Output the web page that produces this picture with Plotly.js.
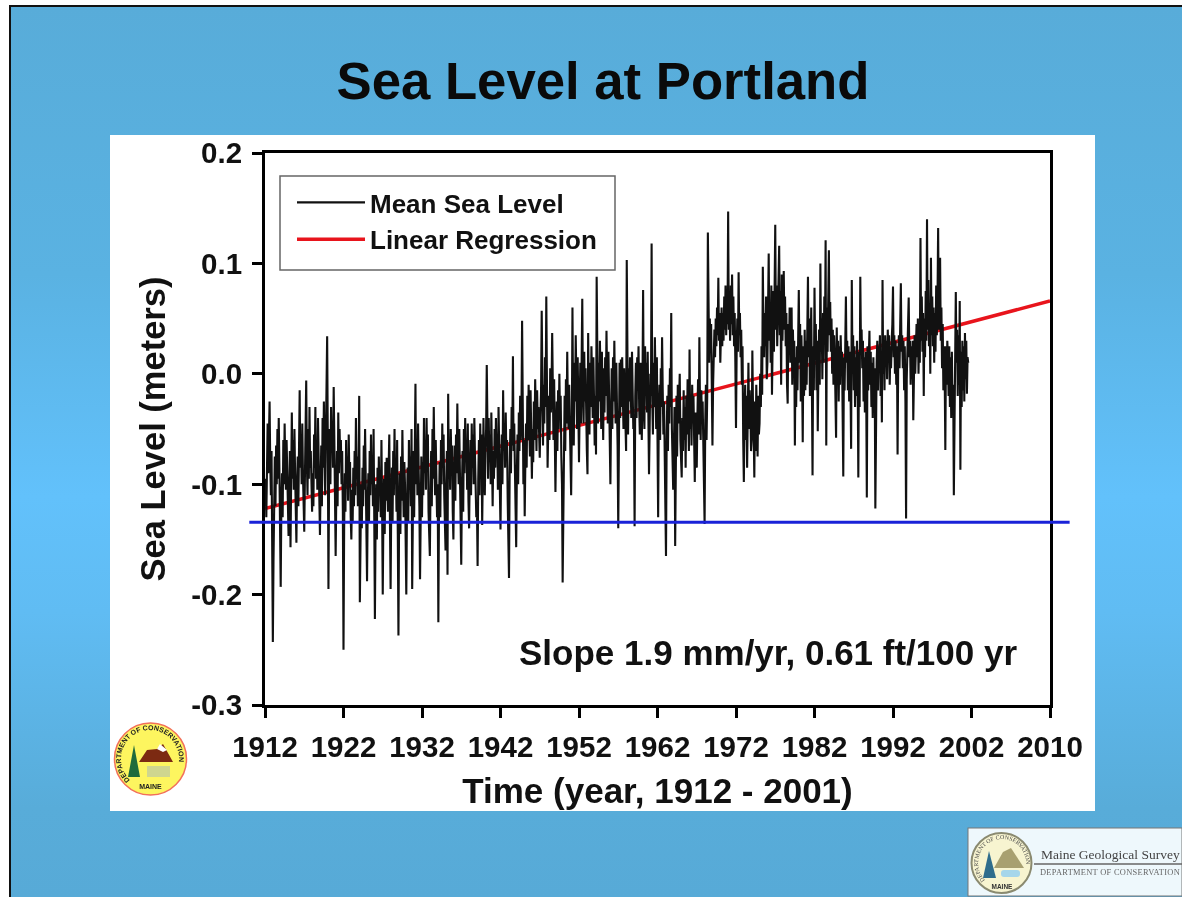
<!DOCTYPE html>
<html><head><meta charset="utf-8">
<script src="https://cdn.plot.ly/plotly-3.0.1.min.js"></script>
<style>
html,body{margin:0;padding:0;width:1182px;height:897px;overflow:hidden;background:#fff}
#slide{position:absolute;left:9px;top:5px;width:1173px;height:892px;box-sizing:border-box;border-left:2px solid #111;border-top:2px solid #111;
background:linear-gradient(180deg,#58acd9 0%,#5ab2e2 30%,#62c1fb 55%,#60bcf3 68%,#58acd9 90%,#57aad7 100%)}
#chart{position:absolute;left:0;top:0;width:1182px;height:897px;filter:blur(0.5px)}
#logos{position:absolute;left:0;top:0;filter:blur(0.4px)}
</style></head><body>
<div id="slide"></div>
<div id="chart"></div>
<svg id="logos" width="1182" height="897" xmlns="http://www.w3.org/2000/svg">
 <defs>
  <path id="arcA" d="M130 780 A29 29 0 1 1 170 780"/>
  <path id="arcB" d="M985 880 A24 24 0 1 1 1019 880"/>
 </defs>
 <g>
  <circle cx="150.5" cy="759" r="36" fill="#fdf55f" stroke="#f2705a" stroke-width="1.5"/>
  <polygon points="139,762 147,750 157,749 163,744 173,762" fill="#7c2a12"/>
  <polygon points="157,749 160,744 167,750 163,752" fill="#ffffff"/>
  <polygon points="134,745 140,777 128,777" fill="#1f6b3c"/>
  <rect x="147" y="766" width="23" height="11" fill="#cfd68f"/>
  <text font-family="Liberation Sans" font-size="7" font-weight="bold" fill="#222"><textPath href="#arcA">DEPARTMENT OF CONSERVATION</textPath></text>
  <text x="150.5" y="789" text-anchor="middle" font-family="Liberation Sans" font-size="7" font-weight="bold" fill="#222">MAINE</text>
 </g>
 <g>
  <rect x="968" y="828" width="214" height="68" fill="#eef8fc" stroke="#777" stroke-width="1"/>
  <circle cx="1001.5" cy="863" r="30" fill="#f7f4d0" stroke="#8a8a70" stroke-width="2"/>
  <polygon points="994,868 1003,852 1011,848 1024,868" fill="#a8a070"/>
  <polygon points="989,851 996,878 983,878" fill="#2f6d8c"/>
  <rect x="1001" y="870" width="19" height="7" rx="3" fill="#a6d6ea"/>
  <text font-family="Liberation Serif" font-size="6" fill="#444"><textPath href="#arcB">DEPARTMENT OF CONSERVATION</textPath></text>
  <text x="1002" y="889" text-anchor="middle" font-family="Liberation Sans" font-size="6.5" font-weight="bold" fill="#333">MAINE</text>
  <text x="1041" y="859" font-family="Liberation Serif" font-size="13.5" fill="#444">Maine Geological Survey</text>
  <line x1="1034" y1="864" x2="1182" y2="864" stroke="#666" stroke-width="1.5"/>
  <text x="1040" y="875" font-family="Liberation Serif" font-size="8.4" fill="#666" letter-spacing="0.3">DEPARTMENT OF CONSERVATION</text>
 </g>
</svg>
<script>
// Monthly mean sea level, millimetres. First value: January 1912.
var meanSeaLevelMm = [
-120,-95,-130,-70,-45,-90,-60,-25,-80,-110,-70,-140,
-243,-170,-110,-75,-120,-65,-100,-50,-95,-40,-85,-130,
-193,-120,-90,-130,-60,-100,-45,-85,-105,-60,-90,-125,
-147,-110,-70,-157,-80,-35,-95,-60,-105,-50,-90,-120,
-153,-100,-75,-120,-65,-15,-85,-55,-100,-45,-90,-125,
-143,-95,-60,-6,-80,-110,-50,-95,-30,-85,-70,-115,
-125,-90,-120,-55,-85,-30,-95,-60,-105,-40,-80,-110,
-146,-100,-65,-120,-40,-85,-25,-75,-110,-60,-20,34,
-60,-195,-90,-50,-100,-30,-70,-45,-85,-12,-60,-95,
-165,-110,-70,-120,-35,-90,-50,-80,-60,-100,-70,-125,
-250,-140,-90,-125,-60,-100,-75,-115,-55,-95,-80,-130,
-150,-105,-135,-85,-120,-70,-110,-40,-95,-75,-120,-90,
-20,-207,-130,-100,-140,-85,-120,-65,-105,-50,-95,-130,
-188,-120,-90,-135,-70,-110,-55,-100,-75,-120,-50,-130,
-222,-140,-100,-150,-85,-125,-75,-110,-90,-130,-60,-120,
-200,-130,-95,-145,-80,-115,-76,-105,-125,-85,-55,-135,
-195,-120,-85,-135,-70,-110,-50,-100,-80,-125,-60,-145,
-237,-130,-90,-145,-75,-115,-51,-95,-130,-80,-100,-150,
-200,-125,-85,-135,-60,-105,-75,-120,-50,-195,-110,-70,
-130,-80,-9,-100,-60,-110,-45,-90,-120,-186,-100,-75,
-130,-80,-110,-40,-90,-60,-105,-40,-85,-55,-125,-150,
-165,-105,-70,-120,-50,-95,-30,-80,-110,-60,-90,-130,
-100,-225,-120,-80,-130,-60,-100,-45,-85,-55,-110,-140,
-160,-100,-70,-182,-18,-90,-60,-105,-50,-85,-65,-125,
-150,-95,-65,-115,-55,-90,-27,-75,-100,-50,-80,-120,
-173,-105,-70,-125,-50,-90,-40,-80,-60,-105,-45,-115,
-140,-90,-60,-110,-45,-85,-55,-100,-40,-75,-95,-130,
-120,-174,-95,-60,-110,-45,-85,-55,-137,-70,-40,-90,
-110,-70,-50,8,-60,-95,-40,-80,-55,-100,-35,-85,
-120,-70,-95,-50,-85,-40,-75,-55,-105,-30,-80,-110,
-141,-85,-55,-100,-15,-70,-45,-85,-35,-75,-60,-115,
-150,-185,-90,-50,-90,-30,-65,16,-70,-45,-85,-120,
-157,-90,-55,-100,-35,-70,-20,-60,-40,48,-60,-100,
-60,-129,-80,-45,-85,-20,-60,-10,-45,-75,-15,-55,
-95,-50,-80,-25,-60,-5,-45,-70,-15,-50,-30,-75,
-76,-40,-15,57,-30,-65,-10,-45,15,-30,70,-20,
-85,-50,-20,-60,5,-35,-15,37,-30,-60,-5,-45,
-107,-60,-25,-70,-15,-50,0,-40,-20,-75,-100,-189,
-120,-60,-20,-70,-5,-45,20,-30,-50,-10,-60,-98,
-110,-50,60,-30,-65,10,-25,35,-20,-50,15,-45,
-80,-30,10,-45,25,68,-15,-45,20,-25,5,-60,
-70,-91,37,-20,-55,10,-30,25,-15,-40,15,-50,
-65,-20,-73,88,-15,-45,10,-25,30,-10,-50,20,
-30,-60,5,-35,15,-20,39,-10,-45,20,-25,-55,
-100,-40,5,-50,15,-25,30,-15,-45,10,-25,-65,
-140,-35,10,-40,13,-30,15,-20,-50,5,-30,-60,
-70,103,-30,-55,5,-25,15,-15,-40,20,-20,-50,
-45,-138,-20,10,-40,15,-15,25,-30,-55,10,-25,
-60,-15,76,-30,-50,25,-20,10,-35,20,-25,-91,
-50,0,-20,118,-25,-55,10,-30,33,-20,-50,15,
-75,-130,-35,-10,-60,5,-30,33,-15,-55,-25,-80,
-90,-165,-60,-20,-70,-10,-45,5,-30,55,-50,-85,
-105,-70,-30,-156,-55,-20,-75,-10,-45,-25,0,-60,
-80,-94,-40,-70,-15,-60,-30,-85,-20,-55,-5,-45,
-70,22,-50,-25,-65,-10,-45,-20,-75,-98,-35,-60,
-85,-40,-5,-55,33,-30,-60,-15,-45,-25,-70,-85,
-136,-45,-10,-60,-20,128,30,10,50,20,45,5,
-65,-10,20,40,15,50,25,60,35,87,30,55,
10,35,60,25,55,30,70,40,80,35,65,45,
147,40,65,30,80,45,90,35,70,25,55,10,
-49,20,50,20,92,35,55,15,40,-10,25,-60,
-98,-40,-10,-60,-20,-85,-30,10,-50,-15,-35,-70,
-60,21,-30,-50,-94,-25,-70,-10,-40,-75,-20,-55,
-45,0,-30,25,-19,97,40,15,55,25,70,-5,
10,50,109,30,65,10,80,-19,45,75,20,60,
135,40,80,25,60,60,116,35,75,-10,90,30,
55,93,40,70,25,55,-10,-27,45,20,60,10,
35,60,-10,40,5,30,-65,15,-30,25,-15,45,
76,10,45,-25,35,0,-62,25,-20,40,-15,30,
-10,40,88,15,50,-20,30,60,-10,-92,25,-15,
78,20,45,-15,30,-52,5,40,-10,100,20,50,
-5,55,10,70,30,121,-65,60,20,80,112,35,
65,20,50,0,40,-10,35,15,-15,-58,42,5,
30,-25,25,-10,35,5,20,-30,-93,15,-15,25,
70,10,30,-15,25,-25,20,-10,-68,85,10,35,
-15,25,-30,15,-20,30,-5,-94,20,-30,88,25,
40,5,30,-25,15,-35,20,-10,-112,25,-15,15,
39,-10,20,-30,10,-40,15,-25,5,-122,-20,10,
30,-15,25,5,35,-20,20,-44,85,0,30,-15,
35,10,30,-5,40,15,35,-10,25,5,30,45,
79,15,35,0,30,-10,25,-73,15,35,5,30,
82,20,35,5,30,-15,25,-25,-131,-5,25,40,
69,15,30,-10,25,-5,30,-42,15,35,0,25,
45,15,50,0,35,10,123,30,70,20,55,-20,
50,15,75,30,140,40,85,25,60,0,105,35,
70,25,60,10,55,20,80,35,65,132,40,70,
105,30,60,5,45,-15,25,0,-69,25,-10,30,
15,-20,25,-30,15,-40,20,-35,-10,-110,-45,30,
74,10,40,-20,35,-10,66,-87,20,-30,30,-15,
25,-25,37,-5,30,-18,15,10
];
var firstYear = 1912;
var regressionYears = [1912, 2012];
var regressionLevels = [-0.122, 0.066];
var referenceYears = [1910, 2014.5];
var referenceLevel = -0.1345;
var xTickYears = [1912,1922,1932,1942,1952,1962,1972,1982,1992,2002,2012];
var xTickLabels = ['1912','1922','1932','1942','1952','1962','1972','1982','1992','2002','2010'];
var yTickValues = [0.2,0.1,0,-0.1,-0.2,-0.3];
var yTickLabels = ['0.2','0.1','0.0','-0.1','-0.2','-0.3'];

var months = meanSeaLevelMm.map(function(_, i){ return firstYear + i / 12; });
var metres = meanSeaLevelMm.map(function(v){ return v / 1000; });
var FONT = '"Liberation Sans", Arial, sans-serif';
var W = 785, H = 552, L = 265, T = 153;
var xMin = 1912, xMax = 2012;
function xFrac(year){ return (year - xMin) / (xMax - xMin); }

// The regression is drawn first so the sea level line covers it, as in the reference.
var traces = [
 {x: regressionYears, y: regressionLevels, mode: 'lines', name: 'Linear Regression', line: {color: '#e8141c', width: 3.5}},
 {x: months, y: metres, mode: 'lines', name: 'Mean Sea Level', line: {color: '#111111', width: 2.1}}
];
var axisCommon = {showgrid: false, zeroline: false, showline: true, linecolor: '#000', linewidth: 3, mirror: true,
  ticks: 'outside', ticklen: 10, tickwidth: 3, tickcolor: '#000', tickmode: 'array', ticklabelstandoff: 4};
var layout = {
 width: 1182, height: 897,
 margin: {l: L, r: 1182 - L - W, t: T, b: 897 - T - H, pad: 0},
 paper_bgcolor: 'rgba(0,0,0,0)', plot_bgcolor: '#fff',
 font: {family: FONT, color: '#111'},
 title: {text: '<b>Sea Level at Portland</b>', font: {family: FONT, size: 52.7, color: '#0a0a0a'}, x: 603/1182, xanchor: 'center', y: 1 - 81/897, yanchor: 'middle'},
 xaxis: Object.assign({}, axisCommon, {range: [xMin, xMax], tickvals: xTickYears, ticktext: xTickLabels,
   tickfont: {family: FONT, size: 29.5, color: '#111', weight: 'bold'},
   title: {text: '<b>Time (year, 1912 - 2001)</b>', font: {family: FONT, size: 35, color: '#111'}, standoff: 17}}),
 yaxis: Object.assign({}, axisCommon, {range: [-0.3, 0.2], tickvals: yTickValues, ticktext: yTickLabels,
   tickfont: {family: FONT, size: 29.5, color: '#111', weight: 'bold'},
   title: {text: '<b>Sea Level (meters)</b>', font: {family: FONT, size: 34.5, color: '#111'}, standoff: 16}}),
 legend: {x: (292-L)/W, y: (T+H-179)/H, xanchor: 'left', yanchor: 'top', bgcolor: 'rgba(0,0,0,0)', borderwidth: 0, traceorder: 'reversed',
   font: {family: FONT, size: 26, color: '#111', weight: 'bold'}, itemwidth: 68, tracegroupgap: 0},
 annotations: [{xref: 'paper', yref: 'paper', x: (768-L)/W, y: (T+H-652)/H, xanchor: 'center', yanchor: 'middle', showarrow: false,
   text: '<b>Slope 1.9 mm/yr, 0.61 ft/100 yr</b>', font: {family: FONT, size: 35, color: '#111'}}],
 shapes: [
  {type: 'rect', xref: 'paper', yref: 'paper', layer: 'below', line: {width: 0}, fillcolor: '#fff',
   x0: (110-L)/W, x1: (1095-L)/W, y0: (T+H-811)/H, y1: (T+H-135)/H},
  {type: 'rect', xref: 'paper', yref: 'paper', layer: 'above', line: {width: 1.5, color: '#666'},
   x0: (280-L)/W, x1: (615-L)/W, y0: (T+H-270)/H, y1: (T+H-176)/H},
  {type: 'line', xref: 'paper', yref: 'y', layer: 'above', line: {width: 3, color: '#1a22d8'},
   x0: xFrac(referenceYears[0]), x1: xFrac(referenceYears[1]), y0: referenceLevel, y1: referenceLevel}
 ]
};
Plotly.newPlot('chart', traces, layout, {displayModeBar: false, staticPlot: true});
</script>
</body></html>
